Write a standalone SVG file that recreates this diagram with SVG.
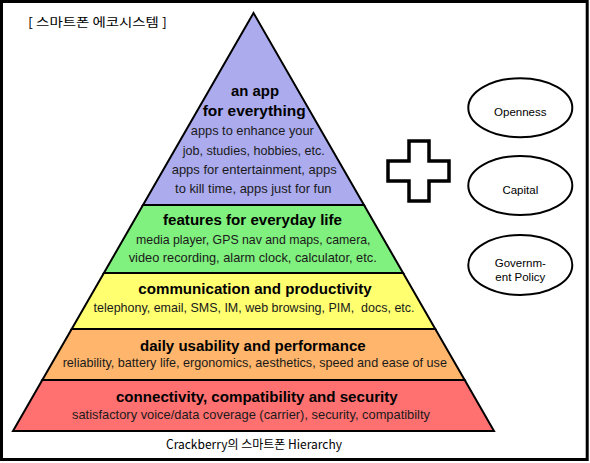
<svg xmlns="http://www.w3.org/2000/svg" width="590" height="463" viewBox="0 0 590 463">
<style>
.layer{stroke:#000;stroke-width:2;stroke-linejoin:miter}
.t{font-family:"Liberation Sans",Arial,sans-serif;font-weight:bold;font-size:15px;fill:#000;text-anchor:middle}
.b{font-family:"Liberation Sans",Arial,sans-serif;font-size:13px;fill:#1a1a1a;text-anchor:middle}
.k{font-family:"Noto Sans CJK KR","Liberation Sans",sans-serif;font-size:12.5px;fill:#000}
.e{fill:#fff;stroke:#000;stroke-width:2}
.et{font-family:"Liberation Sans",Arial,sans-serif;font-size:11.5px;fill:#000;text-anchor:middle}
</style>
<rect x="0" y="0" width="590" height="463" fill="#fff"/>
<rect x="1.5" y="1.5" width="585.7" height="458" fill="#fff" stroke="#000" stroke-width="3"/>
<g id="title">
<text class="k" x="28" y="26.5" textLength="139" lengthAdjust="spacingAndGlyphs">[ 스마트폰 에코시스템 ]</text>
</g>
<g id="layer-apps">
<polygon class="layer" fill="#ABABEE" points="253.5,13 364,205 143,205"/>
<text class="t" x="255" y="96" textLength="48" lengthAdjust="spacingAndGlyphs">an app</text>
<text class="t" x="254.2" y="115.5" textLength="103" lengthAdjust="spacingAndGlyphs">for everything</text>
<text class="b" x="252.3" y="135" textLength="123" lengthAdjust="spacingAndGlyphs">apps to enhance your</text>
<text class="b" x="253.8" y="154.5" textLength="142" lengthAdjust="spacingAndGlyphs">job, studies, hobbies, etc.</text>
<text class="b" x="254.2" y="174" textLength="165" lengthAdjust="spacingAndGlyphs">apps for entertainment, apps</text>
<text class="b" x="253.3" y="193" textLength="156.5" lengthAdjust="spacingAndGlyphs">to kill time, apps just for fun</text>
</g>
<g id="layer-features">
<polygon class="layer" fill="#80F07E" points="143,205 364,205 403.1,273 103.9,273"/>
<text class="t" x="252.5" y="225" textLength="179" lengthAdjust="spacingAndGlyphs">features for everyday life</text>
<text class="b" x="253.3" y="244" textLength="234.5" lengthAdjust="spacingAndGlyphs">media player, GPS nav and maps, camera,</text>
<text class="b" x="252.7" y="261.5" textLength="248" lengthAdjust="spacingAndGlyphs">video recording, alarm clock, calculator, etc.</text>
</g>
<g id="layer-communication">
<polygon class="layer" fill="#FFFF70" points="103.9,273 403.1,273 435.3,329 71.7,329"/>
<text class="t" x="255" y="294" textLength="233.3" lengthAdjust="spacingAndGlyphs">communication and productivity</text>
<text class="b" x="254" y="311.5" textLength="321" lengthAdjust="spacingAndGlyphs" style="white-space:pre">telephony, email, SMS, IM, web browsing, PIM,  docs, etc.</text>
</g>
<g id="layer-usability">
<polygon class="layer" fill="#FFB56B" points="71.7,329 435.3,329 464.7,380 42.3,380"/>
<text class="t" x="252.8" y="350.7" textLength="225.7" lengthAdjust="spacingAndGlyphs">daily usability and performance</text>
<text class="b" x="254.8" y="366.5" textLength="384.3" lengthAdjust="spacingAndGlyphs">reliability, battery life, ergonomics, aesthetics, speed and ease of use</text>
</g>
<g id="layer-connectivity">
<polygon class="layer" fill="#FF7070" points="42.3,380 464.7,380 494,431 13,431"/>
<text class="t" x="256.8" y="401.7" textLength="281.7" lengthAdjust="spacingAndGlyphs">connectivity, compatibility and security</text>
<text class="b" x="251" y="419.3" textLength="358" lengthAdjust="spacingAndGlyphs">satisfactory voice/data coverage (carrier), security, compatibilty</text>
</g>
<g id="caption">
<text class="k" x="254" y="449" text-anchor="middle" textLength="176" lengthAdjust="spacingAndGlyphs">Crackberry의 스마트폰 Hierarchy</text>
</g>
<g id="plus">
<path d="M409,141 H429 V161 H449 V181 H429 V201 H409 V181 H388 V161 H409 Z" fill="#fff" stroke="#000" stroke-width="3.5" stroke-linejoin="miter"/>
</g>
<g id="openness">
<ellipse class="e" cx="520.3" cy="107.8" rx="52" ry="29.5"/>
<text class="et" x="520.3" y="115.5">Openness</text>
</g>
<g id="capital">
<ellipse class="e" cx="520.3" cy="185.5" rx="52" ry="29.5"/>
<text class="et" x="520.3" y="193.5">Capital</text>
</g>
<g id="government-policy">
<ellipse class="e" cx="520.3" cy="265" rx="52" ry="30"/>
<text class="et" x="520.3" y="266.5">Governm-</text>
<text class="et" x="520.3" y="280.5">ent Policy</text>
</g>
</svg>
